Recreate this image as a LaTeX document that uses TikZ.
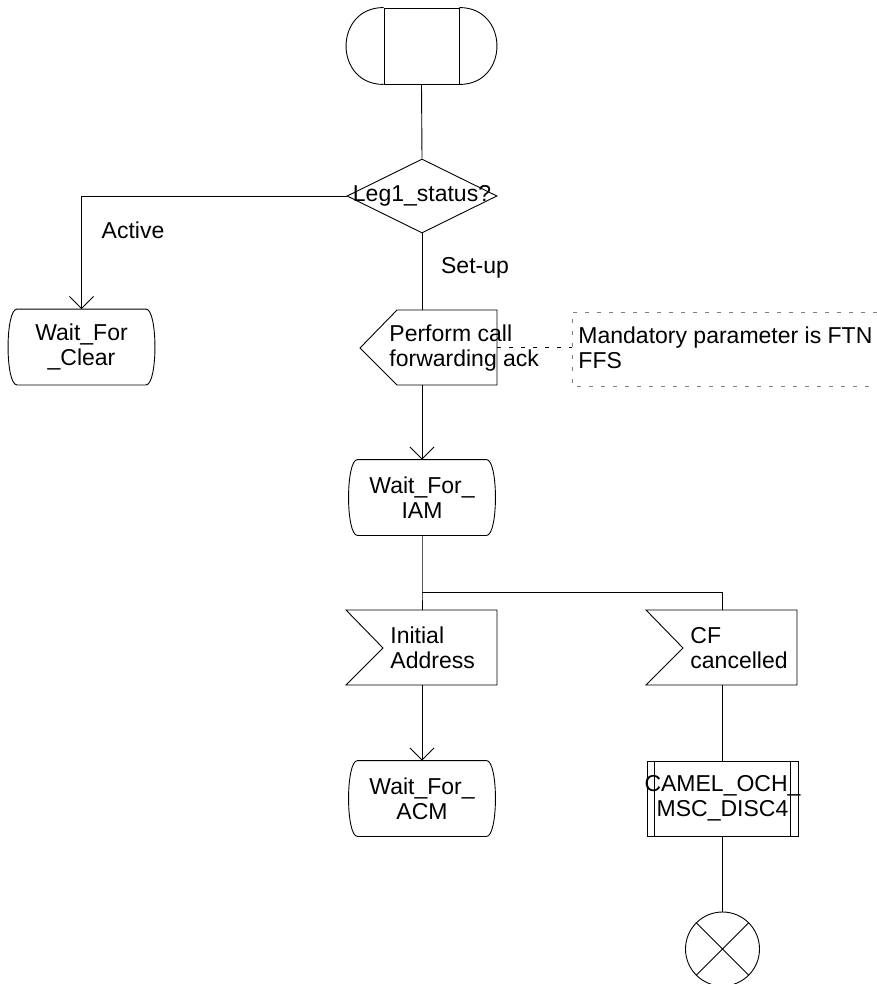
\documentclass[tikz,border=0pt]{standalone}
\usepackage{fontspec}
\setmainfont{Liberation Sans}
\usetikzlibrary{shapes.geometric,arrows.meta}
\begin{document}
\begin{tikzpicture}[x=1pt, y=-1pt, line width=0.9pt,
    every node/.style={font=\fontsize{23}{25}\selectfont, inner sep=0pt},
    startbox/.style={rectangle, draw, minimum width=75pt, minimum height=76pt},
    decision/.style={diamond, draw, minimum width=150pt, minimum height=74pt},
    statebox/.style={minimum width=146pt, minimum height=75pt, align=center},
    procbox/.style={rectangle, draw, minimum width=151pt, minimum height=75pt},
    sigtext/.style={align=left, anchor=west},
    stopsym/.style={circle, draw, minimum size=74pt},
    arr/.style={-{Straight Barb[length=12pt,width=24pt]}},
    notedash/.style={dash pattern=on 4pt off 8pt, gray}]
    \useasboundingbox (0,0) rectangle (877,984);

    % nodes
    \node[startbox] (start) at (421.5,46) {};
    \node[decision] (leg) at (422,196) {};
    \node (legtxt) at (leg.center) {Leg1\_status?};
    \node (active) at (133,230) {Active};
    \node[statebox] (clear) at (81.5,347) {Wait\_For\\\_Clear};
    \node (setup) at (475,268) {Set-up};
    \node[sigtext] (perform) at (389,348) {Perform call\\forwarding ack};
    \node[sigtext] (note) at (578,348) {Mandatory parameter is FTN\\FFS};
    \node[statebox] (iam) at (422,497.5) {Wait\_For\_\\IAM};
    \node[sigtext] (initaddr) at (390,648) {Initial\\Address};
    \node[sigtext] (cfcanc) at (690,648) {CF\\cancelled};
    \node[statebox] (acm) at (422,798.5) {Wait\_For\_\\ACM};
    \node[procbox] (camel) at (722.5,798.5) {};
    \node[align=center] (cameltxt) at (camel.center) {CAMEL\_OCH\_\\MSC\_DISC4};
    \node[stopsym] (stop) at (722.5,949) {};

    \coordinate (perftop) at (422,310);
    \coordinate (perfbot) at (422,385);
    \coordinate (perfright) at (497,347);
    \coordinate (noteleft) at (572,347);
    \coordinate (branch) at (422,592);
    \coordinate (iatop) at (422,610);
    \coordinate (iabot) at (422,685);
    \coordinate (cftop) at (722.5,610);
    \coordinate (cfbot) at (722.5,685);

    % symbol outlines
    \draw (start.north west) .. controls +(-50,0) and +(-50,0) .. (start.south west);
    \draw (start.north east) .. controls +(50,0) and +(50,0) .. (start.south east);
    \foreach \s in {clear,iam,acm}
        \draw ([xshift=9pt]\s.north west) -- ([xshift=-9pt]\s.north east)
            .. controls ([xshift=3pt]\s.north east) and ([xshift=3pt]\s.south east) .. ([xshift=-9pt]\s.south east)
            -- ([xshift=9pt]\s.south west)
            .. controls ([xshift=-3pt]\s.south west) and ([xshift=-3pt]\s.north west) .. cycle;
    \draw (360,348) -- (397,310) -- (497,310) -- (497,385) -- (397,385) -- cycle;
    \foreach \dx in {0,300}
        \draw[xshift=\dx] (346,610) -- (497,610) -- (497,685) -- (346,685) -- (383,648) -- cycle;
    \draw ([xshift=8pt]camel.north west) -- ([xshift=8pt]camel.south west);
    \draw ([xshift=-8pt]camel.north east) -- ([xshift=-8pt]camel.south east);
    \draw (stop.north west) -- (stop.south east) (stop.north east) -- (stop.south west);
    \draw[notedash] (877,312) -- (572,312) -- (572,386) -- (877,386);

    % connectors
    \draw (start.south) -- (leg.north);
    \draw[arr] (leg.west) -| (clear.north);
    \draw (leg.south) -- (perftop);
    \draw[arr] (perfbot) -- (iam.north);
    \draw (iam.south) -- (branch) -- (iatop);
    \draw (branch) -| (cftop);
    \draw[arr] (iabot) -- (acm.north);
    \draw (cfbot) -- (camel.north);
    \draw (camel.south) -- (stop.north);
    \draw[dash pattern=on 4pt off 8pt] (perfright) -- (noteleft);
\end{tikzpicture}
\end{document}
